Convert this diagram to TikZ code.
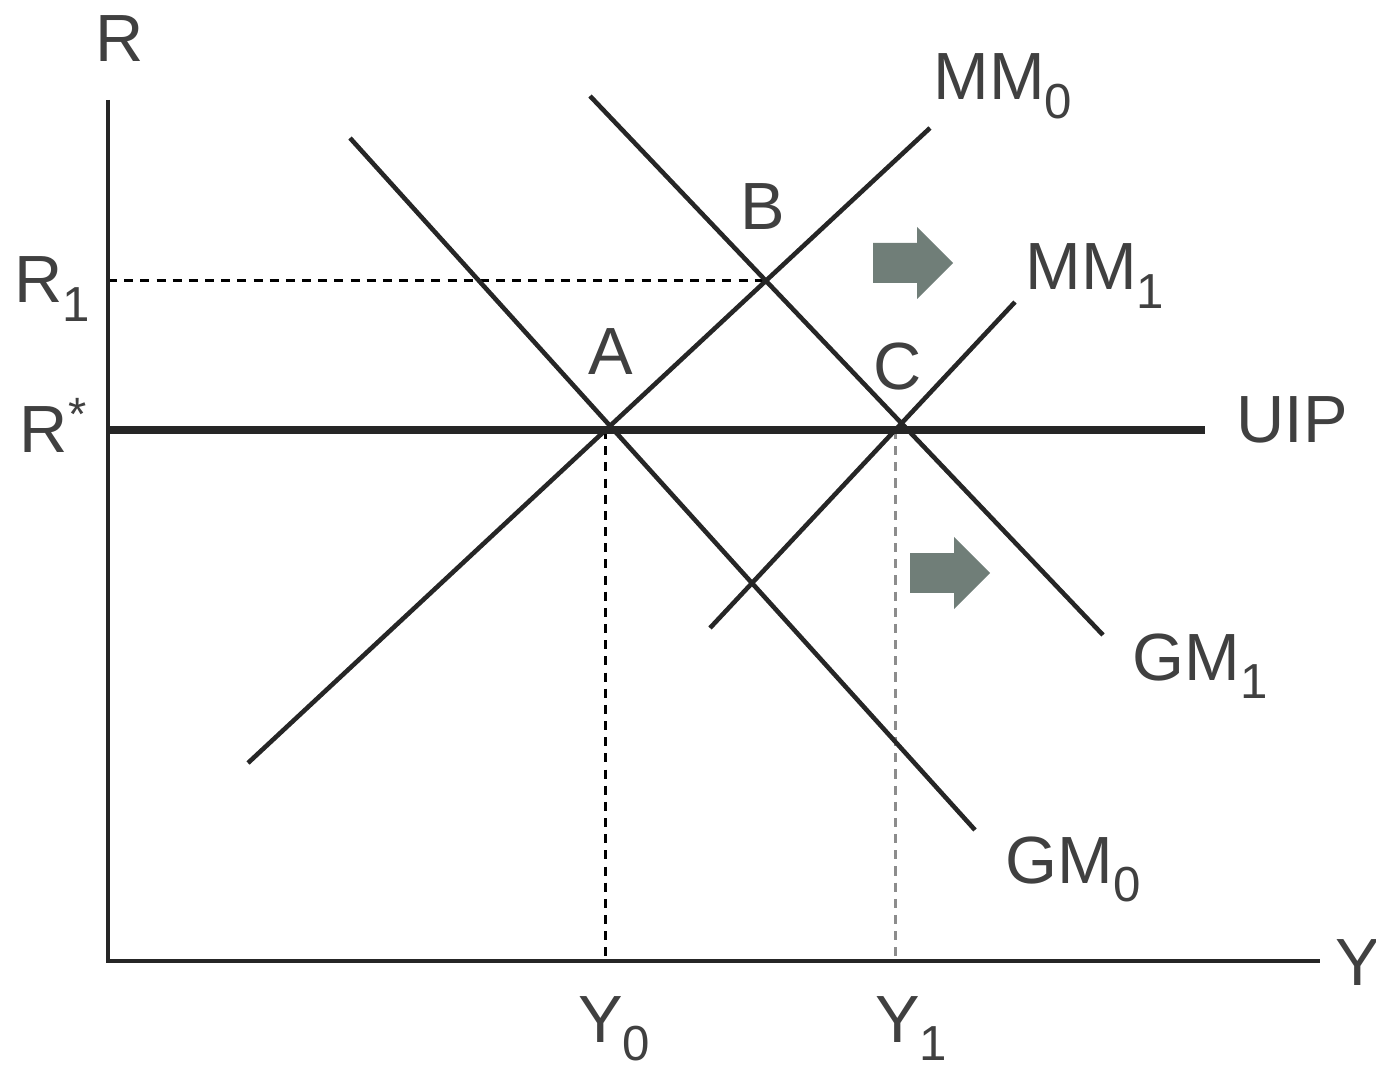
\documentclass[tikz,border=0pt]{standalone}
\usepackage{fontspec}
\setmainfont{Liberation Sans}
\usepackage{xcolor}
\usetikzlibrary{positioning}
\definecolor{shiftgray}{RGB}{112,126,120}
\newcommand{\lowsub}[1]{\raisebox{-0.28em}{\fontsize{14}{16}\selectfont#1}}

\begin{document}
\begin{tikzpicture}[
  axisline/.style={line width=1.4pt, draw=black!85},
  schedule/.style={line width=1.3pt, draw=black!85},
  guide/.style={line width=0.9pt, dash pattern=on 2.6pt off 2pt},
  lbl/.style={font=\fontsize{19}{22}\selectfont, text=black!75, inner sep=0pt, anchor=base},
  pointlbl/.style={font=\fontsize{19}{22}\selectfont, text=black!75, inner sep=0pt},
  shiftarrow/.pic={\fill[shiftgray] (0,-0.2) -- (0.44,-0.2) -- (0.44,-0.36) -- (0.80,0) -- (0.44,0.36) -- (0.44,0.2) -- (0,0.2) -- cycle;}
]
\useasboundingbox (0,0) rectangle (13.76,10.70);

\coordinate (origin) at (1.08,1.09);
\coordinate (rtop) at (1.08,9.70);
\coordinate (yend) at (13.20,1.09);
\coordinate (uipa) at (1.08,6.40);
\coordinate (uipb) at (12.05,6.40);
\coordinate (mm0a) at (2.48,3.07);
\coordinate (mm0b) at (9.30,9.42);
\coordinate (mm1a) at (7.10,4.42);
\coordinate (mm1b) at (10.15,7.68);
\coordinate (gm0a) at (3.50,9.32);
\coordinate (gm0b) at (9.75,2.40);
\coordinate (gm1a) at (5.90,9.74);
\coordinate (gm1b) at (11.03,4.35);

\coordinate (A) at (intersection of mm0a--mm0b and uipa--uipb);
\coordinate (B) at (intersection of mm0a--mm0b and gm1a--gm1b);
\coordinate (C) at (intersection of mm1a--mm1b and uipa--uipb);
\coordinate (rone) at (B -| origin);

\draw[guide] (rone) -- (B);
\draw[guide] (A) -- (A |- origin);
\draw[guide, black!45] (C) -- (C |- origin);

\draw[axisline] (rtop) -- (origin) -- (yend);
\draw[axisline, line width=2pt] (uipa) -- (uipb);
\draw[schedule] (mm0a) -- (mm0b);
\draw[schedule] (mm1a) -- (mm1b);
\draw[schedule] (gm0a) -- (gm0b);
\draw[schedule] (gm1a) -- (gm1b);

\pic at (8.73,8.07) {shiftarrow};
\pic at (9.10,4.97) {shiftarrow};

\node[lbl] (rlabel) at (1.20,10.08) {R};
\node[lbl] (ylabel) at (13.58,0.85) {Y};
\node[lbl] (r1label) at (0.52,7.67) {R\lowsub{1}};
\node[lbl] (rstar) at (0.54,6.17) {R\textsuperscript{*}};
\node[lbl] (y0label) at (6.14,0.28) {Y\lowsub{0}};
\node[lbl] (y1label) at (9.11,0.28) {Y\lowsub{1}};
\node[lbl] (mm0label) at (10.03,9.70) {MM\lowsub{0}};
\node[lbl] (mm1label) at (10.95,7.80) {MM\lowsub{1}};
\node[lbl] (uiplabel) at (12.92,6.27) {UIP};
\node[lbl] (gm1label) at (12.00,3.90) {GM\lowsub{1}};
\node[lbl] (gm0label) at (10.73,1.87) {GM\lowsub{0}};

\node[pointlbl, above=0.55cm of A, xshift=0.05cm] (alabel) {A};
\node[pointlbl, above=0.51cm of B, xshift=-0.03cm] (blabel) {B};
\node[pointlbl, above=0.39cm of C, xshift=0.02cm] (clabel) {C};
\end{tikzpicture}
\end{document}
